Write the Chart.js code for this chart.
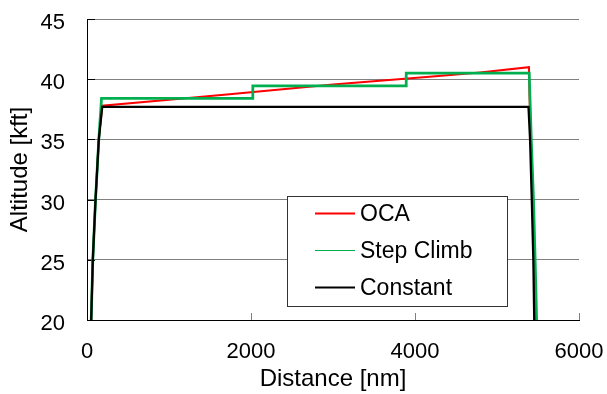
<!DOCTYPE html>
<html>
<head>
<meta charset="utf-8">
<script src="https://cdn.jsdelivr.net/npm/chart.js@4/dist/chart.umd.min.js"></script>
<style>
  html, body { margin: 0; padding: 0; background: #fff; }
  #wrap { width: 607px; height: 394px; }
</style>
</head>
<body>
<div id="wrap"><canvas id="c" width="607" height="394"></canvas></div>
<script>
// Flight altitude profiles against ground distance
const seriesNames = ['OCA', 'Step Climb', 'Constant'];
const seriesColors = ['#ff0000', '#00b050', '#000000'];

// OCA: continuous cruise climb
const ocaDist = [51, 71, 104, 144, 185, 1000, 1738, 3000, 4177, 4792, 5390, 5396, 5412, 5432, 5452, 5470];
const ocaAlt  = [20, 25, 30, 35, 37.8, 38.3, 38.75, 39.55, 40.2, 40.56, 41.0, 38.7, 35, 30, 25, 20];

// Step Climb: cruise in discrete flight levels
const stepDist = [51, 71, 104, 144, 177, 2022, 2022, 3893, 3893, 5393, 5418, 5445, 5465, 5483];
const stepAlt  = [20, 25, 30, 35, 38.4, 38.4, 39.45, 39.45, 40.5, 40.5, 35, 30, 25, 20];

// Constant: fixed cruise altitude
const constDist = [51, 71, 104, 144, 186, 5384, 5403, 5424, 5443, 5454];
const constAlt  = [20, 25, 30, 35, 37.7, 37.7, 35, 30, 25, 20];

const xTicks = [0, 2000, 4000, 6000];
const yTicks = [20, 25, 30, 35, 40, 45];

const toPoints = (xs, ys) => xs.map((v, i) => ({ x: v, y: ys[i] }));

const FONT = 'Arial, "Liberation Sans", sans-serif';

// Keep the plot rectangle fixed: no extra room reserved for overhanging labels
const noOverhang = s => { s.paddingLeft = 0; s.paddingRight = 0; s.paddingTop = 0; s.paddingBottom = 0; };

// Inward tick marks and the boxed legend inside the plot
const framePlugin = {
  id: 'frame',
  beforeDatasetsDraw(chart) {
    const { ctx, chartArea: a, scales: { x, y } } = chart;
    ctx.save();
    ctx.lineWidth = 1;
    ctx.strokeStyle = '#000';
    yTicks.forEach(v => {
      const py = Math.round(y.getPixelForValue(v)) + 0.5;
      ctx.beginPath(); ctx.moveTo(a.left, py); ctx.lineTo(a.left + 8, py); ctx.stroke();
    });
    ctx.strokeStyle = '#808080';
    xTicks.slice(1).forEach(v => {
      const px = Math.round(x.getPixelForValue(v)) + 0.5;
      ctx.beginPath(); ctx.moveTo(px, a.bottom); ctx.lineTo(px, a.bottom - 7); ctx.stroke();
    });
    ctx.restore();
  },
  afterDatasetsDraw(chart) {
    const { ctx, chartArea: a } = chart;
    const bx = a.left + 200, by = a.top + 177, bw = 220, bh = 110;
    ctx.save();
    ctx.fillStyle = '#fff';
    ctx.fillRect(bx, by, bw, bh);
    ctx.strokeStyle = '#333';
    ctx.lineWidth = 1;
    ctx.strokeRect(bx + 0.5, by + 0.5, bw, bh);
    const widths = [2, 1, 2];
    const rowY = [17.5, 54.5, 91.5];
    ctx.font = '23px ' + FONT;
    ctx.textBaseline = 'middle';
    ctx.textAlign = 'left';
    seriesNames.forEach((name, i) => {
      const ly = by + rowY[i];
      ctx.strokeStyle = seriesColors[i];
      ctx.lineWidth = widths[i];
      ctx.beginPath(); ctx.moveTo(bx + 28, ly); ctx.lineTo(bx + 68, ly); ctx.stroke();
      ctx.fillStyle = '#000';
      ctx.fillText(name, bx + 73, ly + 1);
    });
    ctx.restore();
  }
};

new Chart(document.getElementById('c'), {
  type: 'line',
  data: {
    datasets: [
      { label: seriesNames[0], data: toPoints(ocaDist, ocaAlt), borderColor: seriesColors[0], borderWidth: 2, order: 3 },
      { label: seriesNames[1], data: toPoints(stepDist, stepAlt), borderColor: seriesColors[1], borderWidth: 2.75, order: 2 },
      { label: seriesNames[2], data: toPoints(constDist, constAlt), borderColor: seriesColors[2], borderWidth: 2.25, order: 1 }
    ]
  },
  options: {
    responsive: false,
    animation: false,
    devicePixelRatio: 1,
    elements: { point: { radius: 0 }, line: { tension: 0, fill: false } },
    layout: { padding: { top: 19, right: 28, left: 0, bottom: 0 } },
    plugins: { legend: { display: false }, tooltip: { enabled: false } },
    scales: {
      x: {
        type: 'linear', min: 0, max: 6000,
        afterBuildTicks: s => { s.ticks = xTicks.map(v => ({ value: v })); },
        afterFit: s => { s.height = 74; noOverhang(s); },
        grid: { display: false, drawTicks: false },
        border: { display: true, color: '#000', width: 1 },
        ticks: { color: '#000', font: { family: FONT, size: 22 }, padding: 19, maxRotation: 0, callback: v => String(v) },
        title: { display: true, text: 'Distance [nm]', color: '#000', font: { family: FONT, size: 24 }, padding: { top: 0, bottom: 0 } }
      },
      y: {
        type: 'linear', min: 20, max: 45,
        afterBuildTicks: s => { s.ticks = yTicks.map(v => ({ value: v })); },
        afterFit: s => { s.width = 87; noOverhang(s); },
        grid: { color: '#808080', lineWidth: 1, drawTicks: false },
        border: { display: true, color: '#000', width: 1 },
        ticks: { color: '#000', font: { family: FONT, size: 22 }, padding: 22, labelOffset: 4, callback: v => String(v) },
        title: { display: true, text: 'Altitude [kft]', color: '#000', font: { family: FONT, size: 24 }, padding: { top: 6, bottom: 0 } }
      }
    }
  },
  plugins: [framePlugin]
});
</script>
</body>
</html>
